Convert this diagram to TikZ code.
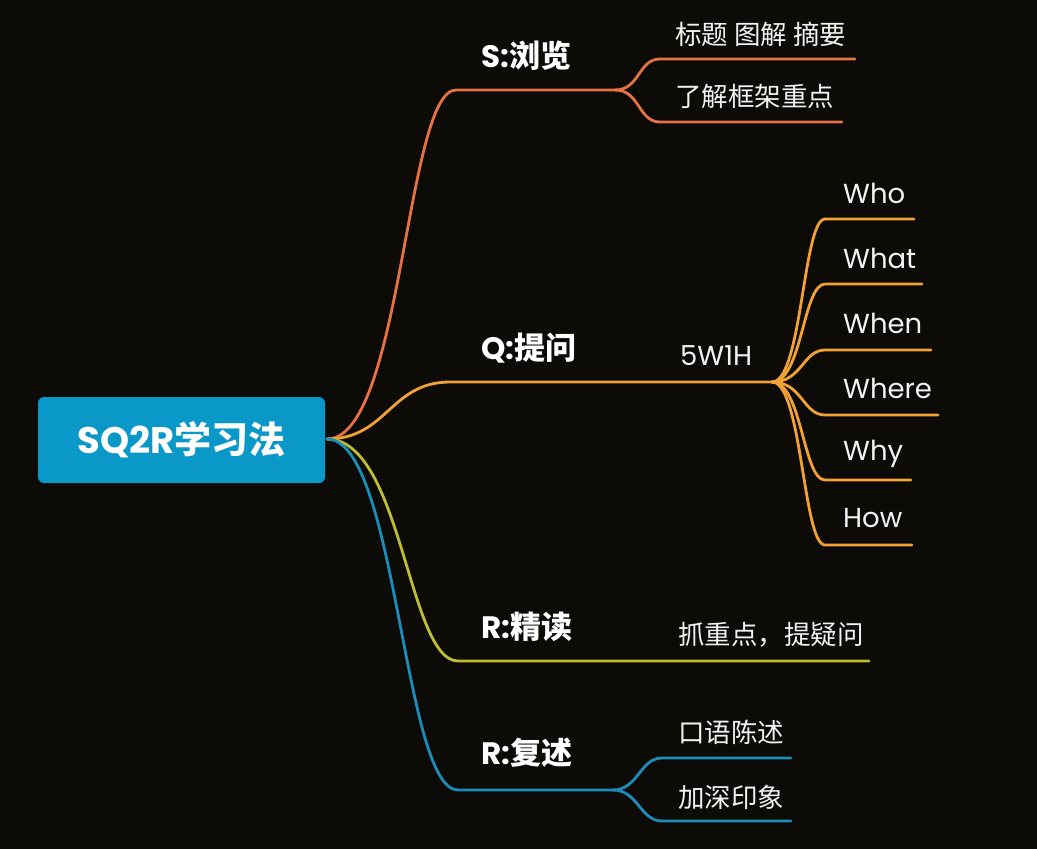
\documentclass[tikz,border=0pt]{standalone}
\usepackage{fontspec}
\setmainfont{Poppins}
\newfontfamily\cjk{Noto Sans CJK SC}
\definecolor{bg}{HTML}{0C0B07}
\definecolor{rootc}{HTML}{0A98C8}
\definecolor{sc}{HTML}{E57245}
\definecolor{qc}{HTML}{F2A234}
\definecolor{rc}{HTML}{BDBE33}
\definecolor{fc}{HTML}{1B8DB8}
\definecolor{txt}{HTML}{F2F2F2}
\begin{document}
\begin{tikzpicture}[x=1pt,y=-1pt,
  mainlbl/.style={anchor=west,inner sep=0pt,text=white,font=\fontsize{31}{35}\selectfont\bfseries},
  leaflbl/.style={anchor=west,inner sep=0pt,text=txt,font=\fontsize{26.5}{30}\selectfont},
  wlbl/.style={anchor=west,inner sep=0pt,text=txt,font=\fontsize{27.5}{31}\selectfont},
  br/.style={line width=2.8pt,line cap=round}]
\useasboundingbox (0,0) rectangle (1037,849);
\fill[bg] (0,0) rectangle (1037,849);
% root
\node[fill=rootc,rounded corners=6pt,minimum width=287pt,minimum height=86pt,inner sep=0pt,
  text=white,font=\fontsize{37}{40}\selectfont\bfseries] (root) at (181.5,440) {SQ2R{\cjk 学习法}};
% main labels
\node[mainlbl] (S) at (481,56) {S:{\cjk 浏览}};
\node[mainlbl] (Q) at (481,348) {Q:{\cjk 提问}};
\node[mainlbl] (R1) at (481,627) {R:{\cjk 精读}};
\node[mainlbl] (R2) at (481,753) {R:{\cjk 复述}};
% leaves
\node[leaflbl] (s1) at (675,34) {\cjk 标题 图解 摘要};
\node[leaflbl] (s2) at (675,96) {\cjk 了解框架重点};
\node[wlbl] (q0) at (680,356) {5W1H};
\node[wlbl] (w1) at (843,193) {Who};
\node[wlbl] (w2) at (843,258) {What};
\node[wlbl] (w3) at (843,323) {When};
\node[wlbl] (w4) at (843,388) {Where};
\node[wlbl] (w5) at (843,454) {Why};
\node[wlbl] (w6) at (843,518) {How};
\node[leaflbl] (r1) at (678,635) {\cjk 抓重点，提疑问};
\node[leaflbl] (f1) at (678,732) {\cjk 口语陈述};
\node[leaflbl] (f2) at (678,797) {\cjk 加深印象};
% coordinates
\coordinate (o) at (327,439);
\coordinate (sA) at (456,90);
\coordinate (sB) at (615,90);
\coordinate (s1a) at (660,59);  \coordinate (s1b) at (855,59);
\coordinate (s2a) at (660,122); \coordinate (s2b) at (842,122);
\coordinate (qA) at (450,382);
\coordinate (qB) at (772,382);
\coordinate (w1a) at (825,219); \coordinate (w1b) at (914,219);
\coordinate (w2a) at (825,284); \coordinate (w2b) at (922,284);
\coordinate (w3a) at (825,350); \coordinate (w3b) at (931,350);
\coordinate (w4a) at (825,415); \coordinate (w4b) at (938,415);
\coordinate (w5a) at (825,480); \coordinate (w5b) at (911,480);
\coordinate (w6a) at (825,545); \coordinate (w6b) at (912,545);
\coordinate (rA) at (458,661);  \coordinate (rB) at (869,661);
\coordinate (fA) at (458,790);  \coordinate (fB) at (613,790);
\coordinate (f1a) at (662,758); \coordinate (f1b) at (791,758);
\coordinate (f2a) at (662,821); \coordinate (f2b) at (791,821);
% S branch
\draw[br,sc] (o) .. controls +(75,0) and +(-50,0) .. (sA) -- (sB);
\draw[br,sc] (sB) .. controls +(25,0) and +(-22,0) .. (s1a) -- (s1b);
\draw[br,sc] (sB) .. controls +(25,0) and +(-22,0) .. (s2a) -- (s2b);
% Q branch
\draw[br,qc] (o) .. controls +(60,0) and +(-60,0) .. (qA) -- (qB);
\foreach \w in {w1,w2,w3,w4,w5,w6}{
  \draw[br,qc] (qB) .. controls +(30,0) and +(-22,0) .. (\w a) -- (\w b);
}
% R1 branch
\draw[br,rc] (o) .. controls +(75,0) and +(-50,0) .. (rA) -- (rB);
% R2 branch
\draw[br,fc] (o) .. controls +(70,0) and +(-55,0) .. (fA) -- (fB);
\draw[br,fc] (fB) .. controls +(25,0) and +(-22,0) .. (f1a) -- (f1b);
\draw[br,fc] (fB) .. controls +(25,0) and +(-22,0) .. (f2a) -- (f2b);
\end{tikzpicture}
\end{document}
